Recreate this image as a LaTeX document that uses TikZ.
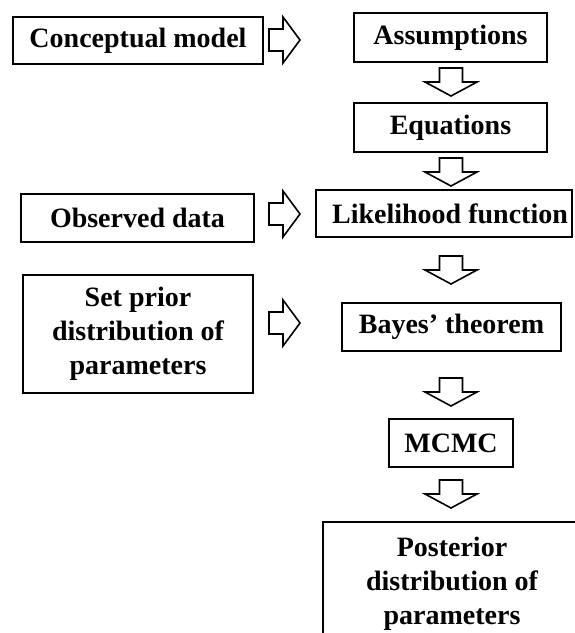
\documentclass[tikz,border=0pt]{standalone}
\usepackage{fontspec}
\setmainfont{Liberation Serif}
\tikzset{
  box/.style={draw, line width=1.8pt, inner sep=0pt, align=center,
    font=\fontsize{28}{34}\selectfont\bfseries},
  blockline/.style={draw, line width=1.6pt, line join=miter, fill=white},
  rarr/.pic={\path[blockline] (0,-11)--(14,-11)--(14,-23)--(31,0)--(14,23)--(14,11)--(0,11)--cycle;},
  darr/.pic={\path[blockline] (-11.5,0)--(11.5,0)--(11.5,14)--(26,14)--(0,28)--(-26,14)--(-11.5,14)--cycle;}
}
\begin{document}
\begin{tikzpicture}[x=1pt,y=-1pt]
\useasboundingbox (0,0) rectangle (575,633);
\clip (0,0) rectangle (575,633);
% left column
\node[box, minimum width=250pt, minimum height=47pt] (concept) at (138,40.5) {Conceptual model};
\node[box, minimum width=233pt, minimum height=48pt] (observ) at (137.5,218) {Observed data};
\node[box, minimum width=230pt, minimum height=118pt] (prior) at (138,334) {Set prior\\distribution of\\parameters};
% right column
\node[box, minimum width=193pt, minimum height=49pt] (assum) at (450.5,37.5) {Assumptions};
\node[box, minimum width=193pt, minimum height=49pt] (equat) at (450.5,127.5) {Equations};
\node[box, minimum width=256pt, minimum height=47pt] (likeli) at (444,213.5) {\hspace*{12pt}Likelihood function};
\node[box, minimum width=219pt, minimum height=48pt] (bayes) at (451.5,327) {Bayes’ theorem};
\node[box, minimum width=124pt, minimum height=48pt] (mcmc) at (451,443) {MCMC};
\node[box, minimum width=258pt, minimum height=124pt] (poster) at (452,584) {Posterior\\distribution of\\parameters};
% block arrows, right-pointing
\pic at (269,40) {rarr};
\pic at (269,214) {rarr};
\pic at (269,323) {rarr};
% block arrows, down-pointing
\pic at (451,68) {darr};
\pic at (451,158) {darr};
\pic at (451,256) {darr};
\pic at (451,378) {darr};
\pic at (451,480) {darr};
\end{tikzpicture}
\end{document}
